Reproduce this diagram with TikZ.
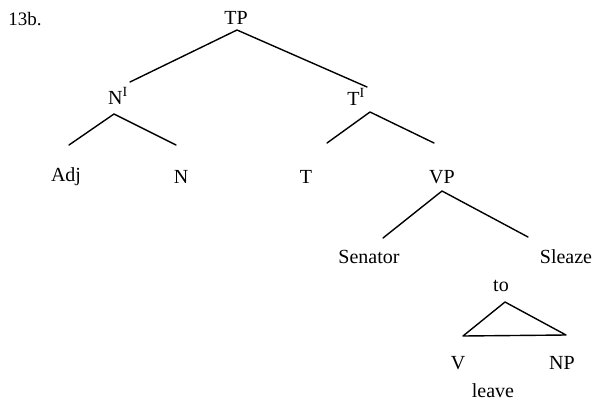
\documentclass[tikz,border=0pt]{standalone}
\usepackage{fontspec}
\setmainfont{Liberation Serif}
\begin{document}
\begin{tikzpicture}[x=1pt,y=-1pt,
  lab/.style={font=\fontsize{20}{24}\selectfont, inner sep=0pt, anchor=center},
  branch/.style={line width=1.4pt, line cap=round, line join=round}]
\useasboundingbox (0,0) rectangle (597,407);
% labels
\node[lab, font=\fontsize{19}{22}\selectfont] (num) at (25,19) {13b.};
\node[lab] (TP) at (236,18) {TP};
\node[lab] (NI) at (118,96) {N\textsuperscript{I}};
\node[lab] (TI) at (356,97) {T\textsuperscript{I}};
\node[lab] (Adj) at (66,177) {Adj};
\node[lab] (N) at (181,177) {N};
\node[lab] (T) at (306,177) {T};
\node[lab] (VP) at (442,177) {VP};
\node[lab] (Sen) at (369,257) {Senator};
\node[lab] (Sle) at (566,257) {Sleaze};
\node[lab] (to) at (501,286) {to};
\node[lab] (V) at (458,363) {V};
\node[lab] (NP) at (562,363) {NP};
\node[lab] (leave) at (493,391) {leave};
% branch points
\coordinate (tp-a) at (237,30);
\coordinate (tp-l) at (130,82);
\coordinate (tp-r) at (367,87);
\coordinate (ni-a) at (114,114);
\coordinate (ni-l) at (69,145);
\coordinate (ni-r) at (176,145);
\coordinate (ti-a) at (370,112);
\coordinate (ti-l) at (327,143);
\coordinate (ti-r) at (434,143);
\coordinate (vp-a) at (442,191);
\coordinate (vp-l) at (383,238);
\coordinate (vp-r) at (528,237);
\coordinate (tr-a) at (505,302);
\coordinate (tr-l) at (463,336);
\coordinate (tr-r) at (566,335);
% branches
\draw[branch] (tp-l) -- (tp-a) -- (tp-r);
\draw[branch] (ni-l) -- (ni-a) -- (ni-r);
\draw[branch] (ti-l) -- (ti-a) -- (ti-r);
\draw[branch] (vp-l) -- (vp-a) -- (vp-r);
\draw[branch] (tr-a) -- (tr-l) -- (tr-r) -- cycle;
\end{tikzpicture}
\end{document}
